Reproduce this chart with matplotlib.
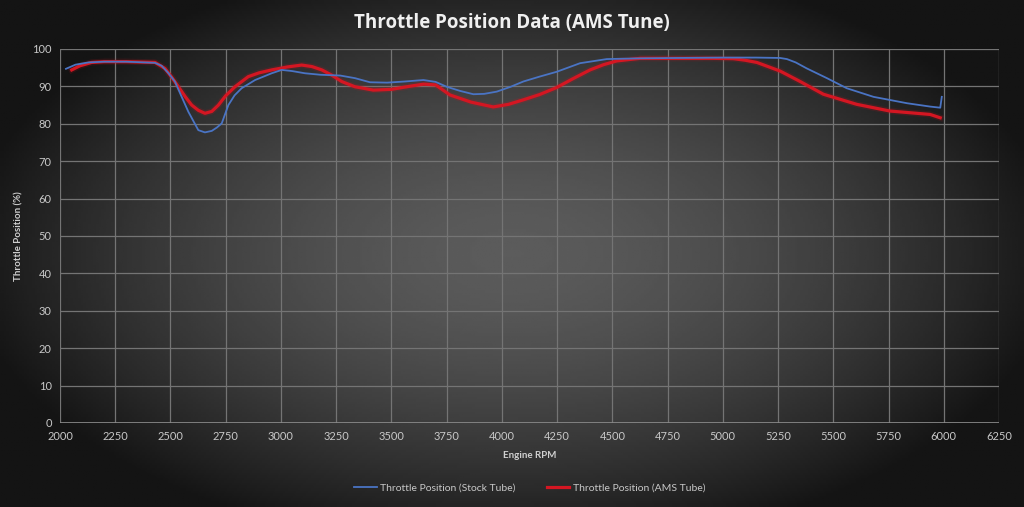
import numpy as np
import matplotlib
matplotlib.use("Agg")
import matplotlib.pyplot as plt

# Throttle position readings
stock_rpm = [2027, 2070, 2128, 2200, 2300, 2430, 2460, 2490, 2520, 2550, 2581,
             2626, 2656, 2687, 2710, 2732, 2762, 2790, 2822, 2883, 2958, 3003,
             3050, 3109, 3180, 3268, 3335, 3403, 3480, 3560, 3645, 3700, 3750,
             3810, 3871, 3920, 3977, 4040, 4097, 4170, 4248, 4354, 4475, 4626,
             4800, 5000, 5150, 5259, 5290, 5330, 5380, 5471, 5561, 5682, 5833,
             5938, 5984, 5991]
stock_pos = [94.7, 95.8, 96.4, 96.6, 96.6, 96.3, 95.5, 93.6, 91.3, 87.3, 83.2,
             78.3, 77.7, 78.1, 79.0, 80.1, 85.0, 87.6, 89.5, 91.7, 93.5, 94.4,
             94.1, 93.5, 93.1, 92.9, 92.2, 91.1, 91.0, 91.3, 91.7, 91.2, 89.9,
             88.8, 87.9, 88.0, 88.6, 89.9, 91.3, 92.6, 93.9, 96.2, 97.3, 97.5,
             97.6, 97.7, 97.7, 97.6, 97.3, 96.4, 94.8, 92.2, 89.5, 87.2, 85.5,
             84.6, 84.3, 87.2]

ams_rpm = [2053, 2090, 2143, 2200, 2300, 2430, 2475, 2505, 2536, 2566, 2596,
           2626, 2656, 2687, 2717, 2750, 2792, 2852, 2900, 2958, 3030, 3094,
           3140, 3185, 3230, 3275, 3335, 3418, 3500, 3580, 3645, 3700, 3765,
           3860, 3961, 4030, 4097, 4170, 4248, 4320, 4399, 4460, 4520, 4626,
           4800, 4950, 5048, 5100, 5154, 5259, 5350, 5455, 5606, 5757, 5938,
           5984]
ams_pos = [94.4, 95.5, 96.4, 96.6, 96.6, 96.4, 94.8, 92.5, 89.9, 87.3, 85.0,
           83.6, 82.8, 83.3, 85.0, 87.5, 89.9, 92.6, 93.6, 94.4, 95.2, 95.7,
           95.3, 94.4, 93.0, 91.3, 89.9, 89.0, 89.2, 90.0, 90.6, 90.4, 87.7,
           85.8, 84.5, 85.2, 86.4, 87.8, 89.7, 92.0, 94.4, 95.8, 96.8, 97.5,
           97.5, 97.5, 97.4, 97.0, 96.4, 94.1, 91.3, 87.9, 85.2, 83.4, 82.5,
           81.6]

x_ticks = list(range(2000, 6251, 250))
y_ticks = list(range(0, 101, 10))

fig = plt.figure(figsize=(10.24, 5.07), dpi=100)

# radial dark gradient background like the Excel chart style
bg = fig.add_axes([0, 0, 1, 1], zorder=-10)
gx, gy = np.meshgrid(np.linspace(-1, 1, 400), np.linspace(-1, 1, 200))
r = np.sqrt((gx / 1.0) ** 2 + (gy / 1.1) ** 2)
shade = np.clip(0.36 - 0.25 * r ** 1.6, 0.08, 0.4)
bg.imshow(shade, cmap="gray", vmin=0, vmax=1, aspect="auto",
          extent=[0, 1, 0, 1])
bg.axis("off")

ax = fig.add_axes([0.0586, 0.1657, 0.9170, 0.7377])
ax.patch.set_alpha(0)

ax.plot(stock_rpm, stock_pos, color="#4a74c4", lw=1.3,
        label="Throttle Position (Stock Tube)", zorder=3)
ax.plot(ams_rpm, ams_pos, color="#d4101c", lw=4.5, alpha=0.15, zorder=2)
ax.plot(ams_rpm, ams_pos, color="#d41622", lw=2.3,
        label="Throttle Position (AMS Tube)", zorder=2)

ax.set_xlim(2000, 6250)
ax.set_ylim(0, 100)
ax.set_xticks(x_ticks)
ax.set_yticks(y_ticks)
ax.grid(True, color="#747474", lw=0.9)
ax.set_axisbelow(True)
for s in ax.spines.values():
    s.set_visible(False)
ax.axhline(0, color="#8c8c8c", lw=1.2, zorder=1)
ax.tick_params(length=0, colors="#c8c8c8", labelsize=8, pad=6)
for lab in ax.get_xticklabels() + ax.get_yticklabels():
    lab.set_family("Lato")

ax.set_xlabel("Engine RPM", color="#d0d0d0", fontsize=7, family="Lato",
              fontweight="bold", labelpad=6)
ax.set_ylabel("Throttle Position (%)", color="#d0d0d0", fontsize=7,
              family="Lato", fontweight="bold", labelpad=6)

fig.text(0.5, 0.955, "Throttle Position Data (AMS Tune)", ha="center",
         va="center", color="#f0f0f0", fontsize=13.5, fontweight="bold",
         family="Open Sans")

leg = ax.legend(loc="upper center", bbox_to_anchor=(0.5, -0.135), ncol=2,
                frameon=False, fontsize=7.5, handlelength=2.2,
                columnspacing=3, handletextpad=0.3)
for t in leg.get_texts():
    t.set_color("#c8c8c8")
    t.set_family("Lato")

fig.savefig("out.png", dpi=100)
